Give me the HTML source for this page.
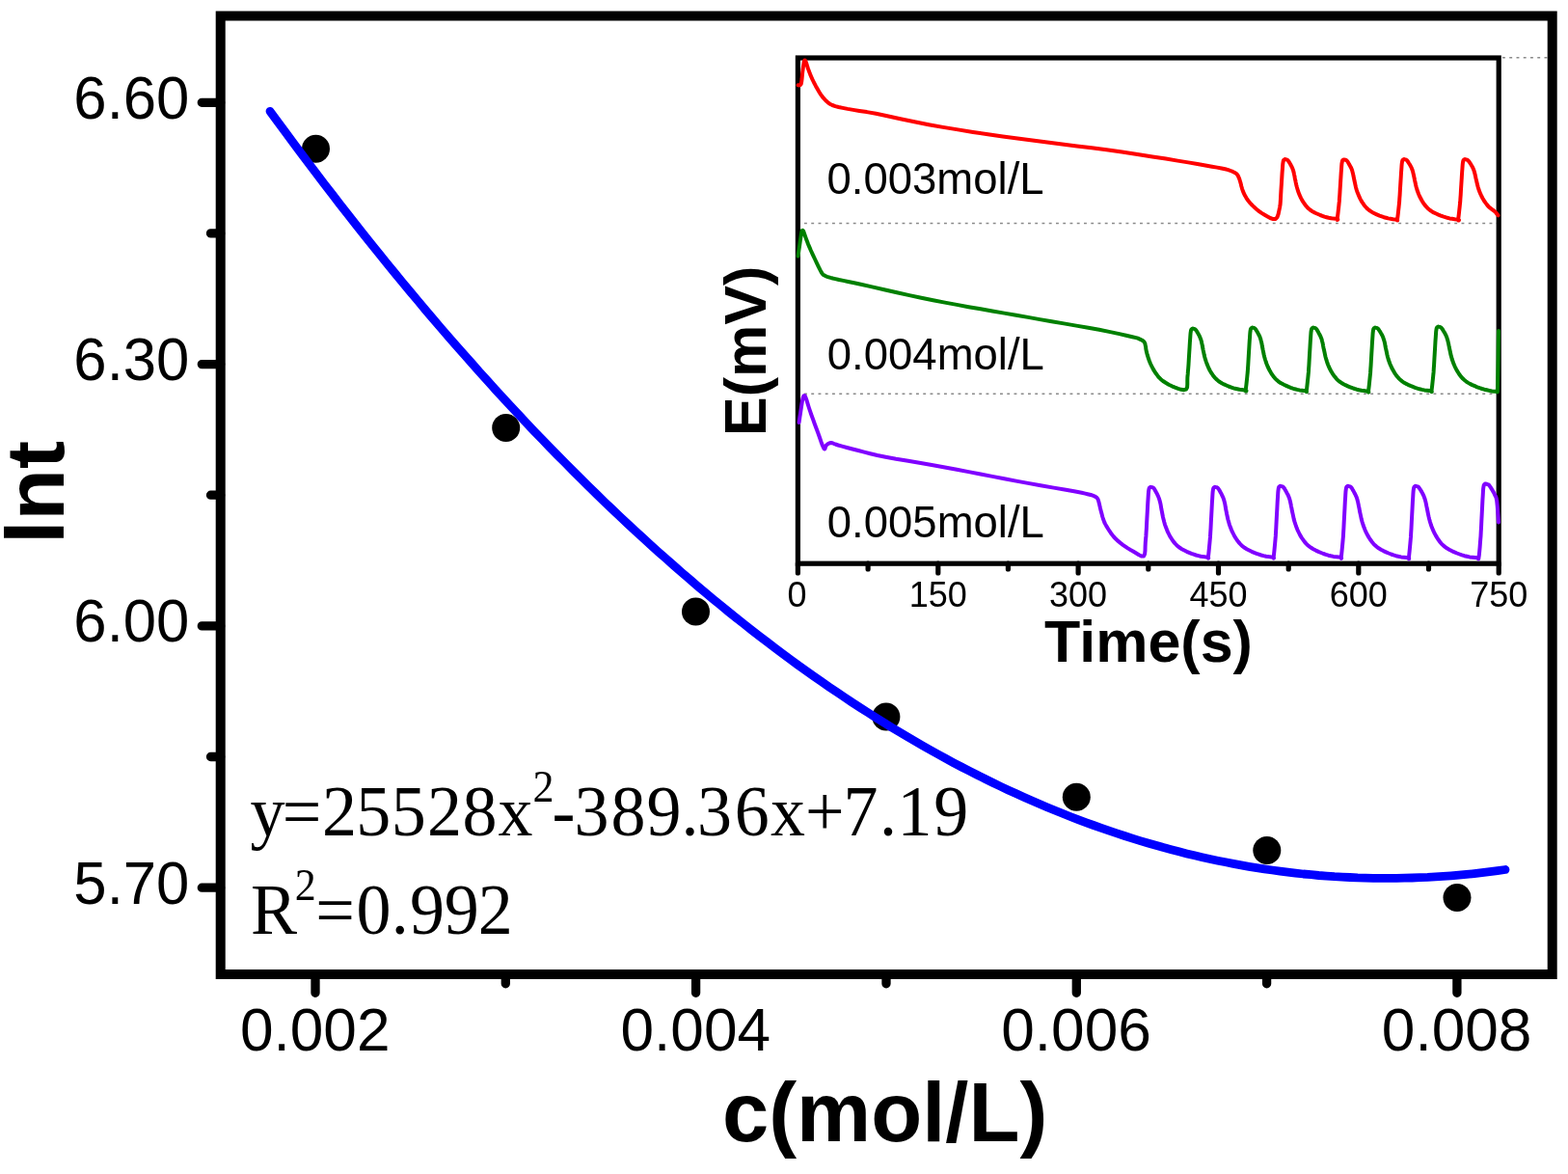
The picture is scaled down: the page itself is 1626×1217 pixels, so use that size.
<!DOCTYPE html>
<html><head><meta charset="utf-8"><title>lnt vs c</title>
<style>
html,body{margin:0;padding:0;background:#fff;}
body{width:1626px;height:1217px;overflow:hidden;}
svg{display:block;}
</style></head><body>
<svg width="1626" height="1217" viewBox="0 0 1626 1217">
<rect width="1626" height="1217" fill="#fff"/>
<path d="M327 1010V1029.3M721.6 1010V1029.3M1116.3 1010V1029.3M1510.9 1010V1029.3M524.3 1010V1019.8M919 1010V1019.8M1313.6 1010V1019.8M228.7 106.3H209.3M228.7 377.6H209.3M228.7 648.9H209.3M228.7 920.2H209.3M228.7 241.9H218.5M228.7 513.2H218.5M228.7 784.5H218.5" stroke="#000" stroke-width="9.3" stroke-linecap="round" fill="none"/>
<g font-family="'Liberation Sans', Arial, Helvetica, sans-serif" font-size="63" fill="#000">
<text transform="translate(326.7 1088.9) scale(0.987 1)" text-anchor="middle">0.002</text>
<text transform="translate(721.3 1088.9) scale(0.987 1)" text-anchor="middle">0.004</text>
<text transform="translate(1116 1088.9) scale(0.987 1)" text-anchor="middle">0.006</text>
<text transform="translate(1510.6 1088.9) scale(0.987 1)" text-anchor="middle">0.008</text>
<text transform="translate(196.4 122.7) scale(0.979 1.013)" text-anchor="end">6.60</text>
<text transform="translate(196.4 394) scale(0.979 1.013)" text-anchor="end">6.30</text>
<text transform="translate(196.4 665.3) scale(0.979 1.013)" text-anchor="end">6.00</text>
<text transform="translate(196.4 936.6) scale(0.979 1.013)" text-anchor="end">5.70</text>
</g>
<text transform="translate(917.6 1183.3) scale(1.021 1.0225)" text-anchor="middle" font-family="'Liberation Sans', Arial, Helvetica, sans-serif" font-weight="bold" font-size="85">c(mol/L)</text>
<text transform="translate(66.3 510.4) rotate(-90) scale(1.029 1)" text-anchor="middle" font-family="'Liberation Sans', Arial, Helvetica, sans-serif" font-weight="bold" font-size="85">lnt</text>
<g font-family="'Liberation Serif', 'Times New Roman', serif" fill="#000">
<text transform="translate(0 866.3) scale(1 1.035)" font-size="72" x="259.5 292.8 334 369.2 405.8 442.9 479.6 516.4" y="0">y=25528x</text>
<text transform="translate(0 866.3) scale(1 1.035)" font-size="44" x="552.4" y="-34.5">2</text>
<text transform="translate(0 866.3) scale(1 1.035)" font-size="72" x="572.6 595.5 633.5 670.4 706.5 722.9 761.7 798.9 834.9 874.6 912.1 930.5 968.3" y="0">-389.36x+7.19</text>
<text transform="translate(0 968.2) scale(1 1.035)" font-size="72" x="260.1" y="0">R</text>
<text transform="translate(0 968.2) scale(1 1.035)" font-size="44" x="305.8" y="-34.5">2</text>
<text transform="translate(0 968.2) scale(1 1.035)" font-size="72" x="327.2 369.6 405.7 425 460.8 495.7" y="0">=0.992</text>
</g>
<circle cx="327.5" cy="154.2" r="14.5" fill="#000"/>
<circle cx="524.7" cy="443.4" r="14.5" fill="#000"/>
<circle cx="721.5" cy="633.9" r="14.5" fill="#000"/>
<circle cx="918.9" cy="743.1" r="14.5" fill="#000"/>
<circle cx="1116.3" cy="826.3" r="14.5" fill="#000"/>
<circle cx="1313.8" cy="881.5" r="14.5" fill="#000"/>
<circle cx="1511" cy="930.4" r="14.5" fill="#000"/>
<path d="M280 115.3L288.1 126.3L296.1 137.2L304.2 148.1L312.2 158.9L320.3 169.6L328.3 180.2L336.4 190.8L344.5 201.3L352.5 211.7L360.6 222L368.6 232.3L376.7 242.5L384.7 252.5L392.8 262.6L400.8 272.5L408.9 282.4L417 292.2L425 301.9L433.1 311.5L441.1 321.1L449.2 330.6L457.2 340L465.3 349.3L473.4 358.6L481.4 367.7L489.5 376.8L497.5 385.9L505.6 394.8L513.6 403.7L521.7 412.5L529.8 421.2L537.8 429.8L545.9 438.4L553.9 446.9L562 455.3L570 463.6L578.1 471.9L586.2 480L594.2 488.1L602.3 496.2L610.3 504.1L618.4 512L626.4 519.8L634.5 527.5L642.5 535.1L650.6 542.7L658.7 550.2L666.7 557.6L674.8 564.9L682.8 572.2L690.9 579.3L698.9 586.4L707 593.5L715.1 600.4L723.1 607.3L731.2 614.1L739.2 620.8L747.3 627.4L755.3 634L763.4 640.5L771.5 646.9L779.5 653.2L787.6 659.4L795.6 665.6L803.7 671.7L811.7 677.7L819.8 683.7L827.8 689.6L835.9 695.3L844 701.1L852 706.7L860.1 712.3L868.1 717.7L876.2 723.1L884.2 728.5L892.3 733.7L900.4 738.9L908.4 744L916.5 749L924.5 754L932.6 758.8L940.6 763.6L948.7 768.3L956.8 773L964.8 777.5L972.9 782L980.9 786.4L989 790.8L997 795L1005.1 799.2L1013.2 803.3L1021.2 807.3L1029.3 811.3L1037.3 815.1L1045.4 818.9L1053.4 822.6L1061.5 826.3L1069.5 829.8L1077.6 833.3L1085.7 836.7L1093.7 840L1101.8 843.3L1109.8 846.5L1117.9 849.6L1125.9 852.6L1134 855.5L1142.1 858.4L1150.1 861.2L1158.2 863.9L1166.2 866.5L1174.3 869.1L1182.3 871.6L1190.4 874L1198.5 876.3L1206.5 878.6L1214.6 880.7L1222.6 882.8L1230.7 884.9L1238.7 886.8L1246.8 888.7L1254.8 890.5L1262.9 892.2L1271 893.8L1279 895.4L1287.1 896.9L1295.1 898.3L1303.2 899.6L1311.2 900.8L1319.3 902L1327.4 903.1L1335.4 904.1L1343.5 905.1L1351.5 906L1359.6 906.7L1367.6 907.5L1375.7 908.1L1383.8 908.7L1391.8 909.1L1399.9 909.5L1407.9 909.9L1416 910.1L1424 910.3L1432.1 910.4L1440.2 910.4L1448.2 910.4L1456.3 910.2L1464.3 910L1472.4 909.7L1480.4 909.4L1488.5 908.9L1496.5 908.4L1504.6 907.8L1512.7 907.1L1520.7 906.4L1528.8 905.6L1536.8 904.7L1544.9 903.7L1552.9 902.6L1561 901.5" stroke="#0000ff" stroke-width="8.8" stroke-linecap="round" stroke-linejoin="round" fill="none"/>
<rect x="827.4" y="60" width="726.8" height="524.2" fill="#fff"/>
<g stroke="#8a8a8a" stroke-width="1.6" stroke-dasharray="2.9 4.35" fill="none">
<path d="M834 231.5H1552"/>
<path d="M834 408.3H1552"/>
<path d="M1558 59.8H1605"/>
</g>
<rect x="827.4" y="60" width="726.8" height="524.2" fill="none" stroke="#000" stroke-width="5.2"/>
<path d="M827.4 584.2V594M972.8 584.2V594M1118.1 584.2V594M1263.5 584.2V594M1408.8 584.2V594M1554.2 584.2V594M900.1 584.2V590M1045.4 584.2V590M1190.8 584.2V590M1336.2 584.2V590M1481.5 584.2V590" stroke="#000" stroke-width="5.2" stroke-linecap="round" fill="none"/>
<g fill="none" stroke-width="4.0" stroke-linejoin="round" stroke-linecap="round">
<path stroke="#ff0000" d="M827.5 88.3L828.1 88.3L829 88.4L829.9 88.1L830.7 87L831.2 84.7L831.6 81.6L831.9 78.1L832.2 75L832.6 72.1L832.9 69.2L833.3 66.7L833.6 64.7L833.9 63.4L834.2 62.7L834.5 62.5L834.8 62.5L835.1 62.9L835.5 63.7L835.9 64.8L836.3 66L836.8 67.4L837.2 68.9L837.8 70.7L838.5 72.6L839.3 74.8L840.2 77.1L841.3 79.7L842.5 82.4L844 85.5L845.8 88.9L847.7 92.3L849.4 95.2L850.9 97.6L852.3 99.6L853.7 101.4L855.3 103.1L856.9 104.8L858.6 106.3L860.5 107.7L863.1 109L866.2 110.1L869.6 111L873.8 111.9L878.9 112.9L884.7 113.9L891.2 114.9L898.9 116.1L908.4 117.8L920.1 120.2L933.7 123.2L948.3 126.3L963 129.2L977.9 131.9L993.3 134.4L1009 136.9L1024.5 139.3L1039.9 141.5L1055.2 143.6L1070.6 145.6L1086 147.6L1101.4 149.5L1116.8 151.4L1132.1 153.3L1147.5 155.3L1163.4 157.6L1179.5 160L1195.1 162.4L1209 164.6L1221.2 166.6L1232.1 168.4L1241.7 170L1250 171.5L1256.8 172.7L1262.2 173.6L1266.7 174.5L1270.5 175.3L1273.7 176.1L1276 177L1277.9 177.7L1279.5 178.5L1280.9 179.2L1281.8 179.8L1282.6 180.5L1283.4 181.5L1284.1 182.8L1284.8 184.3L1285.4 186L1286 188L1286.7 190.4L1287.3 193L1288.1 195.8L1289 198.4L1290.1 200.8L1291.2 203.1L1292.5 205.3L1294 207.5L1295.6 209.6L1297.3 211.5L1299.2 213.4L1301.2 215.3L1303.4 217.2L1305.8 219.1L1308.3 220.9L1311 222.5L1314 224.2L1317.2 226L1320.3 227.1L1322.8 227L1324.5 225.1L1325.6 222L1326.4 218.3L1327.1 214.8L1327.6 211.9L1327.8 209L1328 205.8L1328.2 201.8L1328.5 196.5L1328.9 190.3L1329.3 184L1329.6 178.9L1329.9 175.1L1330.1 172.1L1330.3 169.7L1330.6 167.8L1330.9 166.5L1331.3 165.8L1331.7 165.5L1332.1 165.3L1332.4 165.1L1332.7 165.1L1332.9 165.2L1333.3 165.3L1333.8 165.4L1334.3 165.5L1334.9 165.8L1335.5 166.2L1336.1 167L1336.8 168L1337.5 169.1L1338.1 170.2L1338.7 171.3L1339.2 172.3L1339.8 173.4L1340.3 174.6L1340.7 175.7L1341.1 176.8L1341.4 178.1L1341.8 179.5L1342.1 181.1L1342.5 182.9L1342.8 184.9L1343.3 186.9L1343.7 189.1L1344.2 191.4L1344.8 193.8L1345.5 196.2L1346.2 198.5L1347.1 200.9L1348.1 203.2L1349.1 205.4L1350.3 207.6L1351.6 209.7L1352.9 211.6L1354.3 213.4L1355.7 215L1357 216.3L1358.5 217.5L1360.2 218.7L1362.2 219.9L1364.5 221L1366.8 222L1369.1 223L1371.3 223.8L1373.4 224.6L1375.6 225.2L1377.8 225.8L1380.3 226.2L1382.8 226.6L1385.1 226.8L1386.7 227L1387.3 227.4L1387.2 227.8L1386.8 227.9L1386.7 227L1387 224.8L1387.4 221.7L1387.8 218.1L1388.2 214.7L1388.5 211.8L1388.8 208.9L1389 205.8L1389.3 201.8L1389.6 196.6L1390 190.4L1390.4 184.2L1390.7 179.1L1391 175.3L1391.2 172.3L1391.4 169.9L1391.7 168.1L1392 166.8L1392.4 166.1L1392.8 165.8L1393.2 165.6L1393.5 165.4L1393.8 165.4L1394 165.5L1394.4 165.6L1394.9 165.7L1395.4 165.8L1396 166.1L1396.6 166.5L1397.3 167.3L1397.9 168.3L1398.6 169.5L1399.2 170.6L1399.8 171.6L1400.4 172.7L1401 173.8L1401.5 174.9L1401.9 176L1402.3 177.2L1402.6 178.4L1403 179.9L1403.3 181.5L1403.7 183.3L1404.1 185.3L1404.5 187.3L1405 189.5L1405.5 191.8L1406 194.2L1406.7 196.6L1407.5 199L1408.4 201.3L1409.4 203.7L1410.4 205.9L1411.6 208.1L1412.9 210.2L1414.3 212.2L1415.7 214L1417.1 215.5L1418.4 216.8L1419.9 218L1421.7 219.2L1423.7 220.4L1426 221.6L1428.3 222.6L1430.6 223.6L1432.9 224.4L1435.1 225.2L1437.3 225.8L1439.5 226.4L1442 226.8L1444.5 227.2L1446.8 227.4L1448.5 227.6L1449.2 228L1449.2 228.5L1449 228.5L1449 227.6L1449.3 225.4L1449.7 222.2L1450.1 218.6L1450.5 215.1L1450.8 212.1L1451.1 209.3L1451.3 206L1451.6 202.1L1451.9 196.7L1452.3 190.4L1452.7 184.2L1453 179L1453.3 175.2L1453.5 172.1L1453.7 169.7L1454 167.8L1454.3 166.5L1454.7 165.8L1455.1 165.5L1455.5 165.3L1455.8 165.1L1456.1 165.1L1456.3 165.2L1456.7 165.3L1457.2 165.4L1457.8 165.5L1458.4 165.8L1459 166.2L1459.6 167L1460.3 168L1461 169.2L1461.7 170.3L1462.3 171.3L1462.9 172.4L1463.5 173.5L1464 174.6L1464.4 175.8L1464.8 176.9L1465.2 178.2L1465.5 179.6L1465.9 181.3L1466.3 183.1L1466.7 185L1467.1 187.1L1467.6 189.3L1468.1 191.7L1468.7 194.1L1469.4 196.5L1470.2 198.8L1471.1 201.2L1472.1 203.5L1473.3 205.8L1474.5 208L1475.8 210.1L1477.2 212.1L1478.7 213.9L1480.1 215.4L1481.5 216.8L1483 218L1484.8 219.2L1486.9 220.4L1489.3 221.5L1491.7 222.6L1494.1 223.6L1496.4 224.4L1498.7 225.1L1500.9 225.8L1503.2 226.4L1505.8 226.8L1508.5 227.2L1510.9 227.4L1512.5 227.6L1513 228L1512.8 228.5L1512.3 228.5L1512.1 227.6L1512.4 225.4L1512.8 222.2L1513.2 218.6L1513.6 215.1L1513.9 212.1L1514.2 209.3L1514.4 206L1514.7 202.1L1515 196.7L1515.4 190.4L1515.8 184.2L1516.1 179L1516.4 175.2L1516.6 172.1L1516.8 169.7L1517.1 167.8L1517.4 166.5L1517.8 165.8L1518.2 165.5L1518.6 165.3L1518.9 165.1L1519.1 165.1L1519.4 165.2L1519.8 165.3L1520.3 165.4L1520.9 165.5L1521.6 165.8L1522.3 166.2L1523 167L1523.7 168L1524.5 169.2L1525.2 170.3L1525.8 171.3L1526.5 172.4L1527.1 173.5L1527.6 174.6L1528.1 175.8L1528.5 176.9L1528.9 178.2L1529.3 179.6L1529.7 181.3L1530.1 183.1L1530.5 185L1531 187.1L1531.5 189.3L1532.1 191.7L1532.7 194.1L1533.5 196.5L1534.3 198.8L1535.3 201.2L1536.4 203.5L1537.6 205.8L1538.9 208L1540.4 210.1L1541.9 212.1L1543.4 213.9L1545.1 215.4L1546.9 216.8L1548.6 218L1550 219.2L1551.2 220.4L1552.2 221.6L1552.9 222.6L1553.5 223.3"/>
<path stroke="#008000" d="M827.6 265.5L827.9 263L828.4 259.4L829 255.5L829.5 252L829.9 248.9L830.4 245.8L830.8 243.1L831.2 241L831.5 239.7L831.9 239L832.2 238.8L832.5 238.8L832.8 239.1L833.2 239.8L833.6 240.8L834 242L834.5 243.5L835.1 245.2L835.8 247.1L836.5 249L837.2 250.8L837.9 252.7L838.7 254.6L839.7 256.9L840.8 259.5L842.1 262.3L843.5 265.3L845 268.5L846.7 272.1L848.6 276.1L850.5 279.9L852 282.7L853 284.2L853.7 284.9L854.2 285.1L855 285.5L855.9 286L856.7 286.4L857.8 286.8L859.4 287.3L861.3 287.9L863.5 288.5L866.3 289.1L870 290L874.4 290.9L879.5 292L885.8 293.3L893.8 295L904.3 297.4L916.8 300.2L930.1 303.3L943 306.1L955.3 308.7L967.6 311.2L979.9 313.6L992.2 315.9L1004.5 318.2L1016.8 320.3L1029.1 322.5L1041.4 324.6L1053.7 326.8L1066 328.9L1078.3 331.1L1090.6 333.2L1103.2 335.4L1116.1 337.6L1128.5 339.7L1139.8 341.8L1150.1 343.9L1159.6 345.9L1167.8 347.7L1174.2 349.2L1178.1 350.1L1180 350.7L1180.9 351.1L1182 351.6L1183.4 352.3L1184.6 352.9L1185.7 353.7L1186.5 354.5L1187.1 355.5L1187.5 356.6L1187.7 357.7L1188 359L1188.2 360.3L1188.3 361.6L1188.6 363.1L1189 365.1L1189.7 367.7L1190.7 370.8L1191.8 374L1193 377L1194.3 379.7L1195.7 382.4L1197.2 384.9L1198.8 387.3L1200.4 389.4L1202 391.4L1203.8 393.2L1206 395L1208.8 396.8L1212 398.7L1215.3 400.3L1218.5 401.6L1221.7 402.8L1224.9 403.8L1227.9 404.2L1230 403.6L1231.1 401.5L1231.3 398.3L1231.3 394.6L1231.4 391L1231.7 388L1231.9 385.1L1232.2 381.9L1232.5 377.9L1232.8 372.5L1233.2 366.1L1233.6 359.8L1233.9 354.6L1234.2 350.7L1234.4 347.7L1234.6 345.2L1234.9 343.3L1235.2 342L1235.6 341.3L1236 341L1236.4 340.8L1236.7 340.6L1237 340.6L1237.2 340.7L1237.6 340.8L1238.1 340.9L1238.6 341L1239.2 341.3L1239.8 341.8L1240.5 342.6L1241.2 343.6L1241.8 344.8L1242.5 345.9L1243.1 347L1243.7 348.1L1244.2 349.2L1244.7 350.4L1245.1 351.5L1245.5 352.7L1245.9 354L1246.2 355.5L1246.6 357.2L1246.9 359L1247.3 361L1247.7 363.1L1248.2 365.4L1248.7 367.8L1249.3 370.3L1250 372.7L1250.8 375.1L1251.7 377.6L1252.7 380L1253.7 382.3L1254.9 384.5L1256.2 386.7L1257.6 388.7L1259 390.6L1260.4 392.1L1261.8 393.5L1263.3 394.8L1265 396L1267 397.2L1269.3 398.4L1271.7 399.5L1274 400.5L1276.3 401.3L1278.5 402.1L1280.7 402.8L1283 403.3L1285.4 403.8L1288.1 404.1L1290.4 404.4L1292 404.6L1292.5 405L1292.3 405.5L1291.9 405.5L1291.7 404.6L1292 402.3L1292.4 399L1292.8 395.2L1293.2 391.6L1293.5 388.5L1293.8 385.5L1294 382.2L1294.3 378L1294.6 372.5L1295 365.9L1295.4 359.4L1295.7 354.1L1296 350.1L1296.2 346.9L1296.4 344.4L1296.7 342.4L1297 341L1297.4 340.4L1297.8 340.1L1298.2 339.8L1298.5 339.6L1298.8 339.6L1299 339.7L1299.4 339.8L1299.9 339.9L1300.4 340L1301 340.3L1301.6 340.8L1302.3 341.6L1303 342.7L1303.7 343.9L1304.3 345L1304.9 346.1L1305.5 347.3L1306.1 348.4L1306.6 349.6L1307 350.8L1307.4 352L1307.7 353.3L1308.1 354.8L1308.5 356.6L1308.8 358.5L1309.2 360.5L1309.6 362.7L1310.1 365L1310.6 367.5L1311.2 370L1311.9 372.5L1312.7 375L1313.6 377.5L1314.6 379.9L1315.7 382.3L1316.9 384.6L1318.2 386.8L1319.6 388.9L1321 390.8L1322.4 392.4L1323.8 393.8L1325.3 395.1L1327 396.4L1329.1 397.6L1331.4 398.8L1333.8 399.9L1336.1 400.9L1338.4 401.8L1340.6 402.6L1342.8 403.3L1345.1 403.9L1347.6 404.4L1350.2 404.7L1352.5 405L1354.2 405.2L1354.9 405.6L1355 406.1L1354.8 406.2L1354.8 405.2L1355.1 402.9L1355.5 399.5L1355.9 395.7L1356.3 392.1L1356.6 389L1356.9 385.9L1357.1 382.6L1357.4 378.4L1357.7 372.8L1358.1 366.2L1358.5 359.6L1358.8 354.2L1359.1 350.2L1359.3 347L1359.5 344.4L1359.8 342.4L1360.1 341.1L1360.5 340.4L1360.9 340.1L1361.3 339.8L1361.6 339.6L1361.8 339.6L1362.1 339.7L1362.5 339.8L1363 339.9L1363.6 340L1364.2 340.3L1364.8 340.8L1365.5 341.6L1366.2 342.7L1366.9 343.9L1367.5 345.1L1368.1 346.2L1368.7 347.3L1369.3 348.5L1369.8 349.7L1370.3 350.9L1370.7 352.1L1371 353.4L1371.4 354.9L1371.8 356.7L1372.1 358.6L1372.5 360.7L1373 362.8L1373.5 365.2L1374 367.6L1374.6 370.2L1375.3 372.7L1376.1 375.2L1377 377.7L1378 380.2L1379.1 382.6L1380.4 384.9L1381.7 387.1L1383.1 389.2L1384.6 391.1L1386 392.8L1387.4 394.2L1389 395.5L1390.8 396.7L1392.9 398L1395.2 399.2L1397.7 400.3L1400.1 401.3L1402.4 402.2L1404.7 403L1407 403.7L1409.3 404.3L1411.8 404.8L1414.5 405.1L1416.9 405.4L1418.6 405.6L1419.3 406L1419.3 406.5L1419 406.6L1419 405.6L1419.3 403.3L1419.7 399.9L1420.1 396.1L1420.5 392.4L1420.8 389.3L1421.1 386.2L1421.3 382.8L1421.6 378.6L1421.9 373L1422.3 366.3L1422.7 359.7L1423 354.3L1423.3 350.2L1423.5 347L1423.7 344.5L1424 342.4L1424.3 341.1L1424.7 340.4L1425.1 340.1L1425.5 339.8L1425.8 339.6L1426 339.6L1426.3 339.7L1426.7 339.8L1427.2 339.9L1427.8 340L1428.4 340.3L1429.1 340.8L1429.7 341.6L1430.4 342.7L1431.2 343.9L1431.8 345L1432.5 346.1L1433.1 347.3L1433.7 348.4L1434.2 349.6L1434.6 350.8L1435 352L1435.4 353.3L1435.8 354.8L1436.2 356.6L1436.5 358.5L1436.9 360.5L1437.4 362.7L1437.9 365L1438.4 367.5L1439 370L1439.7 372.5L1440.6 375L1441.5 377.5L1442.6 379.9L1443.7 382.3L1445 384.6L1446.3 386.8L1447.8 388.9L1449.3 390.8L1450.7 392.4L1452.2 393.8L1453.7 395.1L1455.6 396.4L1457.7 397.6L1460.1 398.8L1462.6 399.9L1465.1 400.9L1467.4 401.8L1469.8 402.6L1472.1 403.3L1474.5 403.9L1477.1 404.4L1479.8 404.7L1482.3 405L1484 405.2L1484.7 405.6L1484.8 406.1L1484.5 406.2L1484.5 405.2L1484.8 402.8L1485.2 399.4L1485.6 395.6L1486 391.9L1486.3 388.7L1486.6 385.7L1486.8 382.2L1487.1 378L1487.4 372.3L1487.8 365.6L1488.2 358.9L1488.5 353.4L1488.8 349.3L1489 346.1L1489.2 343.5L1489.5 341.5L1489.8 340.1L1490.2 339.4L1490.6 339.1L1491 338.8L1491.3 338.6L1491.5 338.6L1491.8 338.7L1492.2 338.8L1492.7 338.9L1493.3 339L1494 339.3L1494.6 339.8L1495.3 340.6L1496.1 341.7L1496.8 343L1497.5 344.1L1498.2 345.3L1498.8 346.4L1499.4 347.6L1499.9 348.8L1500.4 350L1500.8 351.3L1501.2 352.6L1501.6 354.2L1502 355.9L1502.4 357.9L1502.8 360L1503.3 362.2L1503.8 364.5L1504.3 367.1L1505 369.6L1505.7 372.2L1506.6 374.7L1507.5 377.3L1508.6 379.8L1509.8 382.2L1511.1 384.6L1512.5 386.8L1514 389L1515.5 390.9L1517 392.6L1518.6 394L1520.2 395.3L1522.1 396.6L1524.3 397.9L1526.8 399.1L1529.4 400.2L1531.9 401.3L1534.4 402.2L1536.8 403L1539.2 403.7L1541.7 404.3L1544.3 404.9L1547.1 405.5L1549.6 405.8L1551.5 405.6L1552.5 405.9L1552.8 406.4L1552.9 405.2L1553 400L1553.3 388L1553.6 371.1L1553.8 354.4L1554 343"/>
<path stroke="#8000ff" d="M828.6 438.1L828.9 435.7L829.4 432.3L830 428.5L830.5 425L831 421.7L831.5 418.4L832 415.3L832.5 413L833 411.5L833.4 410.5L833.9 410.1L834.3 410L834.7 410.3L835.1 411L835.5 412.1L836 413.5L836.7 415.5L837.4 417.9L838.2 420.5L839 423L839.7 425.1L840.4 427.1L841.1 429.3L842.1 432L843.4 435.5L844.8 439.5L846.4 443.8L848 448L849.7 452.7L851.4 457.7L853.1 462.2L854.4 465L855.2 465.5L855.7 464.5L856.2 462.8L856.9 461.5L857.9 460.7L859 459.9L860.3 459.2L861.8 459L863.2 459.2L864.5 459.8L866.3 460.5L869.2 461.5L873.3 462.6L878.3 464L884 465.5L890 467L896.1 468.6L902.4 470.2L909.7 472L918.4 473.8L929.2 475.8L941.7 477.8L954.8 480L967.6 482.2L979.9 484.5L992.2 486.8L1004.5 489.1L1016.8 491.5L1029.1 493.9L1041.4 496.2L1053.7 498.6L1066 500.9L1079.1 503.2L1092.7 505.6L1105.3 507.7L1115.2 509.5L1121.6 510.7L1125.4 511.6L1127.8 512.2L1130 512.8L1132 513.3L1133.1 513.6L1134 513.9L1134.9 514.4L1135.9 514.9L1136.9 515.5L1137.7 516.2L1138.5 517.5L1139.2 519.4L1139.8 521.8L1140.4 524.4L1141 527L1141.7 529.7L1142.5 532.6L1143.2 535.5L1144 538L1144.7 539.9L1145.3 541.5L1146.1 543.1L1147.2 545.1L1148.8 547.7L1150.7 550.7L1152.8 553.8L1155 556.5L1157.2 558.8L1159.5 560.9L1161.9 562.9L1164.4 564.8L1167 566.6L1169.6 568.4L1172.3 570L1175 571.5L1177.9 573.3L1181.1 575.3L1183.9 576.6L1186 576.5L1187.1 574.3L1187.5 570.7L1187.6 566.5L1187.8 562.4L1188.1 559L1188.4 555.7L1188.6 552L1188.9 547.4L1189.2 541.2L1189.6 533.9L1190 526.7L1190.3 520.8L1190.6 516.4L1190.8 512.9L1191 510.1L1191.3 507.9L1191.6 506.4L1192 505.6L1192.4 505.3L1192.8 505L1193.1 504.8L1193.3 504.8L1193.6 504.9L1194 505L1194.5 505.1L1195.1 505.2L1195.7 505.5L1196.4 506.1L1197.1 507L1197.8 508.2L1198.5 509.5L1199.2 510.8L1199.9 512L1200.5 513.3L1201.1 514.6L1201.6 515.9L1202.1 517.2L1202.5 518.6L1202.9 520L1203.3 521.7L1203.7 523.6L1204 525.7L1204.4 528L1204.9 530.4L1205.4 533L1205.9 535.7L1206.6 538.5L1207.3 541.3L1208.1 544.1L1209.1 546.8L1210.2 549.6L1211.3 552.2L1212.6 554.7L1214 557.2L1215.5 559.5L1217 561.6L1218.5 563.4L1220 565L1221.6 566.4L1223.4 567.8L1225.6 569.2L1228.1 570.5L1230.6 571.8L1233.1 572.9L1235.5 573.9L1237.9 574.7L1240.3 575.5L1242.7 576.1L1245.3 576.7L1248.1 577.1L1250.6 577.4L1252.4 577.6L1253.1 578L1253.2 578.6L1252.9 578.7L1252.9 577.6L1253.2 575L1253.6 571.3L1254 567.1L1254.4 563.1L1254.7 559.6L1255 556.2L1255.2 552.5L1255.5 547.8L1255.8 541.6L1256.2 534.3L1256.6 527L1256.9 521L1257.2 516.5L1257.4 512.9L1257.6 510.1L1257.9 507.9L1258.2 506.4L1258.6 505.6L1259 505.3L1259.4 505L1259.7 504.8L1259.9 504.8L1260.2 504.9L1260.6 505L1261.1 505.1L1261.7 505.2L1262.4 505.5L1263 506.1L1263.7 507L1264.5 508.2L1265.2 509.5L1265.9 510.8L1266.6 512L1267.2 513.3L1267.8 514.6L1268.4 515.9L1268.9 517.2L1269.3 518.6L1269.7 520L1270.1 521.7L1270.5 523.6L1270.8 525.7L1271.2 528L1271.7 530.4L1272.2 533L1272.8 535.7L1273.4 538.5L1274.2 541.3L1275 544.1L1276 546.8L1277.1 549.6L1278.3 552.2L1279.6 554.7L1281 557.2L1282.5 559.5L1284.1 561.6L1285.6 563.4L1287.1 565L1288.7 566.4L1290.6 567.8L1292.9 569.2L1295.4 570.5L1298 571.8L1300.5 572.9L1303 573.9L1305.4 574.7L1307.9 575.5L1310.3 576.1L1313 576.7L1315.8 577.1L1318.4 577.4L1320.2 577.6L1321 578L1321 578.6L1320.7 578.7L1320.7 577.6L1321 575L1321.4 571.2L1321.8 567L1322.2 562.9L1322.5 559.3L1322.8 555.9L1323 552.1L1323.3 547.4L1323.6 541.1L1324 533.7L1324.4 526.3L1324.7 520.2L1325 515.7L1325.2 512L1325.4 509.2L1325.7 506.9L1326 505.4L1326.4 504.6L1326.8 504.3L1327.2 504L1327.5 503.8L1327.7 503.7L1328 503.9L1328.4 504L1328.9 504.1L1329.6 504.3L1330.2 504.5L1330.9 505.1L1331.7 506L1332.4 507.3L1333.2 508.6L1333.9 509.9L1334.6 511.2L1335.3 512.4L1335.9 513.7L1336.5 515.1L1337 516.4L1337.4 517.8L1337.8 519.3L1338.2 521L1338.6 522.9L1339 525.1L1339.5 527.4L1339.9 529.8L1340.5 532.4L1341.1 535.2L1341.7 538.1L1342.5 540.9L1343.4 543.7L1344.4 546.5L1345.5 549.3L1346.8 552L1348.1 554.6L1349.6 557.1L1351.2 559.4L1352.8 561.6L1354.3 563.4L1355.9 565L1357.6 566.4L1359.6 567.8L1361.9 569.2L1364.5 570.6L1367.2 571.9L1369.9 573L1372.4 574L1374.9 574.9L1377.5 575.7L1380 576.3L1382.8 576.9L1385.8 577.3L1388.4 577.6L1390.3 577.8L1391.1 578.2L1391.1 578.8L1390.8 578.9L1390.8 577.8L1391.1 575.2L1391.5 571.4L1391.9 567.1L1392.3 563L1392.6 559.5L1392.9 556.1L1393.1 552.3L1393.4 547.5L1393.7 541.2L1394.1 533.8L1394.5 526.4L1394.8 520.2L1395.1 515.7L1395.3 512.1L1395.5 509.2L1395.8 507L1396.1 505.4L1396.5 504.6L1396.9 504.3L1397.3 504L1397.6 503.8L1397.8 503.7L1398.1 503.9L1398.5 504L1399 504.1L1399.7 504.3L1400.3 504.5L1401 505.1L1401.8 506.1L1402.5 507.3L1403.3 508.6L1404 509.9L1404.7 511.2L1405.4 512.5L1406 513.8L1406.6 515.1L1407.1 516.5L1407.5 517.9L1407.9 519.4L1408.3 521.1L1408.7 523.1L1409.1 525.2L1409.6 527.5L1410 530L1410.6 532.6L1411.2 535.4L1411.8 538.3L1412.6 541.1L1413.5 544L1414.5 546.8L1415.6 549.6L1416.9 552.3L1418.2 554.9L1419.7 557.4L1421.3 559.8L1422.9 562L1424.4 563.8L1426 565.4L1427.7 566.8L1429.7 568.3L1432 569.7L1434.6 571.1L1437.3 572.3L1440 573.5L1442.5 574.5L1445 575.4L1447.6 576.2L1450.1 576.8L1452.9 577.4L1455.9 577.8L1458.5 578.1L1460.4 578.3L1461.2 578.8L1461.2 579.3L1460.9 579.4L1460.9 578.3L1461.2 575.6L1461.6 571.8L1462 567.6L1462.4 563.4L1462.7 559.9L1463 556.4L1463.2 552.6L1463.5 547.8L1463.8 541.5L1464.2 534L1464.6 526.5L1464.9 520.3L1465.2 515.8L1465.4 512.1L1465.6 509.3L1465.9 507L1466.2 505.4L1466.6 504.7L1467 504.3L1467.4 504L1467.7 503.8L1467.9 503.7L1468.2 503.9L1468.6 504L1469.1 504.1L1469.8 504.3L1470.5 504.5L1471.2 505.1L1471.9 506.1L1472.7 507.3L1473.5 508.6L1474.3 509.9L1475 511.2L1475.6 512.5L1476.3 513.8L1476.8 515.1L1477.3 516.5L1477.8 517.9L1478.2 519.4L1478.6 521.1L1479 523.1L1479.4 525.2L1479.9 527.5L1480.4 530L1480.9 532.6L1481.5 535.4L1482.2 538.3L1483 541.1L1483.9 544L1484.9 546.8L1486.1 549.6L1487.3 552.3L1488.7 554.9L1490.2 557.4L1491.8 559.8L1493.4 562L1495 563.8L1496.6 565.4L1498.4 566.8L1500.4 568.3L1502.8 569.7L1505.4 571.1L1508.2 572.3L1510.9 573.5L1513.5 574.5L1516 575.4L1518.6 576.2L1521.2 576.8L1524 577.4L1527 577.8L1529.7 578.1L1531.7 578.3L1532.7 578.8L1533.1 579.4L1533.2 579.4L1533.4 578.3L1533.8 575.6L1534.2 571.6L1534.6 567.2L1534.9 563L1535.2 559.3L1535.5 555.8L1535.7 551.8L1536 546.9L1536.3 540.3L1536.7 532.6L1537.1 524.9L1537.4 518.6L1537.7 513.8L1537.9 510.1L1538.1 507.1L1538.4 504.8L1538.7 503.2L1539.1 502.4L1539.5 502L1539.9 501.7L1540.2 501.5L1540.4 501.4L1540.7 501.5L1541.1 501.7L1541.7 501.8L1542.4 502L1543.2 502.3L1544 502.8L1544.8 503.8L1545.7 505.1L1546.5 506.5L1547.4 507.8L1548.1 509.1L1548.9 510.4L1549.6 511.8L1550.2 513.2L1550.8 514.3L1551.3 515.2L1551.7 516.6L1552.2 519.3L1552.7 524.2L1553.2 530.7L1553.7 537.1L1554 541.4"/>
</g>
<g font-family="'Liberation Sans', Arial, Helvetica, sans-serif" font-size="36" fill="#000" text-anchor="middle">
<text x="826.4" y="628.5">0</text>
<text x="972.8" y="628.5">150</text>
<text x="1118.1" y="628.5">300</text>
<text x="1263.5" y="628.5">450</text>
<text x="1408.8" y="628.5">600</text>
<text x="1554.2" y="628.5">750</text>
</g>
<text transform="translate(1191 686)" text-anchor="middle" font-family="'Liberation Sans', Arial, Helvetica, sans-serif" font-weight="bold" font-size="61">Time(s)</text>
<text transform="translate(794.2 363.9) rotate(-90)" text-anchor="middle" font-family="'Liberation Sans', Arial, Helvetica, sans-serif" font-weight="bold" font-size="61">E(mV)</text>
<g font-family="'Liberation Sans', Arial, Helvetica, sans-serif" font-size="45" fill="#000">
<text transform="translate(857.5 200.8) scale(1.011 1.037)">0.003mol/L</text>
<text transform="translate(857.8 382.9) scale(1.011 1.037)">0.004mol/L</text>
<text transform="translate(857.8 557.3) scale(1.011 1.037)">0.005mol/L</text>
</g>
<rect x="228.7" y="16.5" width="1381" height="993.5" fill="none" stroke="#000" stroke-width="10"/>
</svg>
</body></html>
